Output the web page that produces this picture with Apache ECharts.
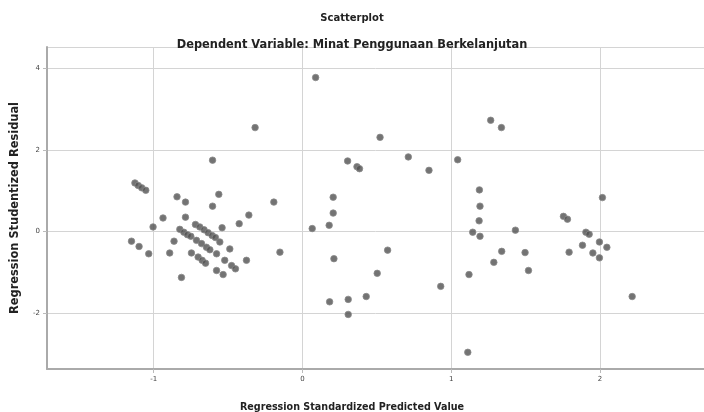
<!DOCTYPE html>
<html>
<head>
<meta charset="utf-8">
<script src="https://cdn.jsdelivr.net/npm/echarts@6/dist/echarts.min.js"></script>
<style>
  html, body { margin: 0; padding: 0; background: #fff; }
  #chart { width: 704px; height: 412px; }
</style>
</head>
<body>
<div id="chart"></div>
<script>
// Regression Standardized Predicted Value (x) and Studentized Residual (y)
const predicted = [
  -1.126, -1.104, -1.080, -1.053, -0.604, -0.562, -0.192, -0.843, -0.786, -0.604,
  -0.360, -0.425, -0.937, -0.786, -1.004, -0.540, -0.719, -0.690, -0.661, -0.634,
  -0.607, -0.585, -0.824, -0.797, -0.773, -0.863, -0.750, -0.712, -0.678, -0.645,
  -0.622, -0.555, -0.488, -0.892, -0.746, -0.701, -0.674, -0.651, -0.577, -0.522,
  -0.476, -0.450, -0.376, -0.577, -0.533, -0.813, -1.149, -1.098, -1.033, -0.151,
  -0.318,
  0.089, 0.522, 0.304, 0.367, 0.384, 0.712, 0.851, 1.044, 0.207, 0.207,
  0.180, 0.066, 0.573, 0.212, 0.503, 0.930, 0.183, 0.308, 0.429, 0.308,
  1.112,
  1.266, 1.338, 1.190, 1.194, 1.188, 1.145, 1.194, 1.432, 1.340, 1.287,
  1.497, 1.520, 1.120, 1.755, 1.782, 1.793, 1.906, 1.928, 1.883, 1.953,
  1.997, 1.997, 2.047, 2.017, 2.217
];
const residual = [
  1.19, 1.13, 1.07, 1.01, 1.75, 0.91, 0.72, 0.85, 0.72, 0.62,
  0.40, 0.19, 0.33, 0.35, 0.11, 0.09, 0.17, 0.11, 0.04, -0.03,
  -0.10, -0.15, 0.05, -0.02, -0.08, -0.24, -0.12, -0.22, -0.30, -0.39,
  -0.45, -0.26, -0.43, -0.53, -0.53, -0.63, -0.71, -0.78, -0.55, -0.71,
  -0.84, -0.92, -0.71, -0.96, -1.06, -1.13, -0.24, -0.37, -0.55, -0.51,
  2.55,
  3.78, 2.31, 1.73, 1.59, 1.54, 1.83, 1.50, 1.76, 0.84, 0.45,
  0.15, 0.07, -0.46, -0.67, -1.03, -1.35, -1.73, -1.67, -1.60, -2.04,
  -2.97,
  2.73, 2.55, 1.02, 0.62, 0.26, -0.02, -0.12, 0.03, -0.49, -0.76,
  -0.52, -0.96, -1.06, 0.37, 0.30, -0.51, -0.02, -0.07, -0.34, -0.53,
  -0.26, -0.65, -0.39, 0.83, -1.60
];

const titleText = 'Scatterplot';
const subtitleText = 'Dependent Variable: Minat Penggunaan Berkelanjutan';
const xName = 'Regression Standardized Predicted Value';
const yName = 'Regression Studentized Residual';

const points = predicted.map((x, i) => [x, residual[i]]);
const font = 'DejaVu Sans, sans-serif';

const chart = echarts.init(document.getElementById('chart'));
chart.setOption({
  animation: false,
  backgroundColor: '#fff',
  title: [
    {
      text: titleText, left: 'center', top: 8,
      textStyle: { fontFamily: font, fontSize: 10, fontWeight: 'bold', color: '#222' }
    },
    {
      text: subtitleText, left: 'center', top: 35,
      textStyle: { fontFamily: font, fontSize: 11.4, fontWeight: 'bold', color: '#222' }
    },
    {
      text: xName, left: 'center', top: 397,
      textStyle: { fontFamily: font, fontSize: 9.6, fontWeight: 'bold', color: '#222' }
    }
  ],
  grid: { left: 47, right: 0, top: 47, bottom: 43, outerBoundsMode: 'none', containLabel: false },
  xAxis: {
    type: 'value',
    min: -1.717,
    max: 2.70,
    splitNumber: 4,
    axisLine: { onZero: false, lineStyle: { color: '#aaa', width: 2 } },
    axisTick: { show: true, length: 4, lineStyle: { color: '#bbb' } },
    axisLabel: {
      showMinLabel: false, showMaxLabel: false, margin: 7,
      fontFamily: font, fontSize: 7, color: '#444',
      formatter: v => String(Math.round(v))
    },
    splitLine: { show: true, lineStyle: { color: '#d4d4d4', width: 1 } }
  },
  yAxis: {
    type: 'value',
    min: -3.38,
    max: 4.53,
    splitNumber: 4,
    name: yName,
    nameLocation: 'middle',
    nameGap: 26,
    nameTextStyle: { fontFamily: font, fontSize: 11.4, fontWeight: 'bold', color: '#222' },
    axisLine: { show: true, onZero: false, lineStyle: { color: '#aaa', width: 2 } },
    axisTick: { show: true, length: 4, lineStyle: { color: '#bbb' } },
    axisLabel: {
      showMinLabel: false, showMaxLabel: false, margin: 7,
      fontFamily: font, fontSize: 7, color: '#444',
      formatter: v => String(Math.round(v))
    },
    splitLine: { show: true, lineStyle: { color: '#d4d4d4', width: 1 } }
  },
  series: [
    {
      type: 'scatter',
      data: points,
      symbol: 'circle',
      symbolSize: 6.5,
      itemStyle: { color: '#505050', borderColor: '#8a8a8a', borderWidth: 1 }
    }
  ]
});
</script>
</body>
</html>
